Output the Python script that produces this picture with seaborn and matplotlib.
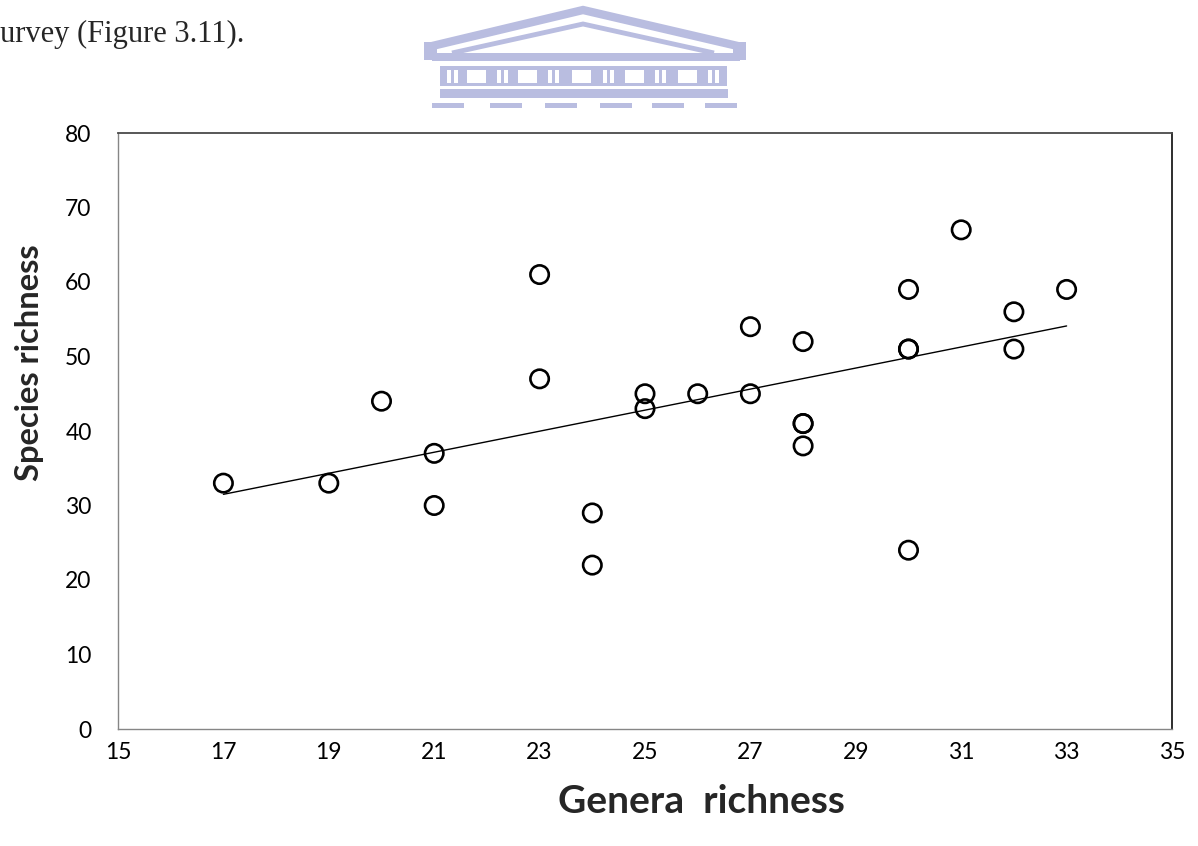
import numpy as np
import pandas as pd
import matplotlib
matplotlib.use("Agg")
import matplotlib.pyplot as plt
from matplotlib.patches import Polygon, Rectangle
from matplotlib.lines import Line2D
import seaborn as sns

# Survey data: genera richness vs species richness per site
genera = [17, 19, 20, 21, 21, 23, 23, 24, 24, 25, 25, 26, 27, 27,
          28, 28, 28, 28, 30, 30, 30, 30, 31, 32, 32, 33]
species = [33, 33, 44, 37, 30, 61, 47, 29, 22, 45, 43, 45, 54, 45,
           52, 41, 41, 38, 59, 51, 51, 24, 67, 56, 51, 59]

x_ticks = [15, 17, 19, 21, 23, 25, 27, 29, 31, 33, 35]
y_ticks = [0, 10, 20, 30, 40, 50, 60, 70, 80]

df = pd.DataFrame({"genera": genera, "species": species})

sns.set_style("white")
plt.rcParams["font.family"] = ["Lato", "DejaVu Sans"]

W, H = 1198, 846
fig = plt.figure(figsize=(W / 100, H / 100), dpi=100)
fig.patch.set_facecolor("white")


def fx(px):
    return px / W


def fy(py):
    return 1 - py / H


ax = fig.add_axes([fx(118), fy(729), fx(1172 - 118), (729 - 133) / H])

sns.scatterplot(data=df, x="genera", y="species", ax=ax, marker="o", s=175,
                facecolor="none", edgecolor="black", linewidth=1.9, zorder=3)
sns.regplot(data=df, x="genera", y="species", ax=ax, ci=None, scatter=False,
            truncate=True, line_kws=dict(color="black", lw=1.0, zorder=2))

ax.set_xlim(15, 35)
ax.set_ylim(0, 80)
ax.set_xticks(x_ticks)
ax.set_yticks(y_ticks)
ax.tick_params(axis="both", direction="out", length=6, width=1.0,
               color="#868686", labelsize=16.5, labelcolor="black")
ax.tick_params(axis="x", pad=3)
ax.tick_params(axis="y", pad=13)
ax.set_xlabel("")
ax.set_ylabel("")

for side in ("left", "bottom"):
    ax.spines[side].set_color("#868686")
    ax.spines[side].set_linewidth(1.0)
ax.spines["top"].set_color("#4a4a4a")
ax.spines["top"].set_linewidth(1.3)
ax.spines["right"].set_color("#1e1e1e")
ax.spines["right"].set_linewidth(1.3)
for s in ax.spines.values():
    s.set_visible(True)

# Axis titles
fig.text(fx(701), fy(801), "Genera  richness", ha="center", va="center",
         fontsize=28, fontweight="bold")
fig.text(fx(30), fy(363), "Species richness", ha="center", va="center",
         rotation=90, fontsize=23.5, fontweight="bold")

# Running text above the chart
fig.text(fx(0), fy(42), "urvey (Figure 3.11).", ha="left", va="baseline",
         fontsize=22, family="Liberation Serif")

# Watermark building emblem
logo = "#b9bde0"
tr = fig.transFigure


def rect(x0, y0, x1, y1, color):
    fig.patches.append(Rectangle((fx(x0), fy(y1)), fx(x1 - x0), (y1 - y0) / H,
                                 transform=tr, color=color, lw=0))


def chevron(pts, lw):
    fig.lines.append(Line2D([fx(a) for a, b in pts], [fy(b) for a, b in pts],
                            transform=tr, color=logo, lw=lw,
                            solid_joinstyle="miter", solid_capstyle="butt"))


chevron([(428, 47), (583, 10), (742, 47)], 6.0)
chevron([(452, 53), (583, 24), (714, 53)], 3.5)
rect(424, 42, 437, 60, logo)
rect(733, 42, 746, 60, logo)
rect(432, 53, 740, 61, logo)
rect(440, 66, 727, 86, logo)
for x0 in [447, 497, 548, 603, 655, 708]:
    rect(x0, 70, x0 + 4, 83, "white")
    rect(x0 + 7, 70, x0 + 11, 83, "white")
for x0 in [467, 518, 572, 625, 678]:
    rect(x0, 70, x0 + 19, 83, "white")
rect(440, 89, 728, 98, logo)
for x0 in [432, 490, 545, 600, 652, 705]:
    rect(x0, 103, x0 + 32, 108, logo)

fig.savefig("out.png", dpi=100, facecolor="white")
